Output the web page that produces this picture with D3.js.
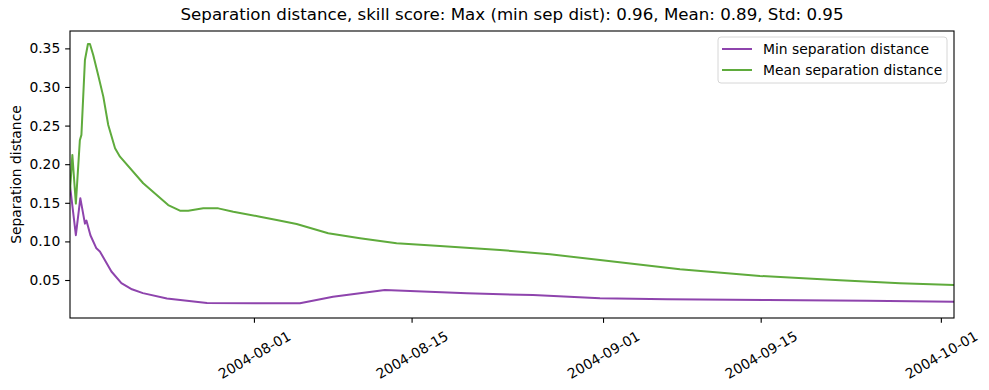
<!DOCTYPE html>
<html>
<head>
<meta charset="utf-8">
<script src="https://cdn.jsdelivr.net/npm/d3@7"></script>
<style>
  html, body { margin: 0; padding: 0; background: #fff; }
  svg { display: block; font-family: "DejaVu Sans", sans-serif; }
</style>
</head>
<body>
<div id="chart"></div>
<script>
// ---- data ----
const chartTitle = "Separation distance, skill score: Max (min sep dist): 0.96, Mean: 0.89, Std: 0.95";
const yLabel = "Separation distance";
const seriesNames = ["Min separation distance", "Mean separation distance"];
const seriesColors = ["#8e44ad", "#5fab3c"];

const xStart = "2004-07-15T16:00";
const xEnd = "2004-10-02T04:00";
const xTickDates = ["2004-08-01", "2004-08-15", "2004-09-01", "2004-09-15", "2004-10-01"];
const yTickValues = [0.05, 0.10, 0.15, 0.20, 0.25, 0.30, 0.35];
const yMin = 0.0008, yMax = 0.3725;

const minDates = [
  "2004-07-15T16:00", "2004-07-16T04:30", "2004-07-16T14:00", "2004-07-16T23:50",
  "2004-07-17T03:00", "2004-07-17T11:30", "2004-07-18T00:15", "2004-07-18T07:40",
  "2004-07-19T08:15", "2004-07-20T05:30", "2004-07-21T04:00", "2004-07-22T03:20",
  "2004-07-24T06:30", "2004-07-27T20:00", "2004-08-01T12:45", "2004-08-05T02:00",
  "2004-08-08T00:30", "2004-08-12T15:00", "2004-08-19T22:00", "2004-08-25T18:45",
  "2004-08-31T17:30", "2004-09-06T16:20", "2004-09-15T13:30", "2004-09-24T10:30",
  "2004-10-02T04:00"
];
const minValues = [
  0.172, 0.108, 0.156, 0.123,
  0.127, 0.108, 0.091, 0.087,
  0.061, 0.046, 0.038, 0.033,
  0.026, 0.0203, 0.0200, 0.0198,
  0.0284, 0.0370, 0.0327, 0.0306,
  0.0263, 0.0250, 0.0241, 0.0232,
  0.0219
];

const meanDates = [
  "2004-07-15T16:00", "2004-07-15T21:00", "2004-07-16T04:30", "2004-07-16T13:00",
  "2004-07-16T16:20", "2004-07-16T23:50", "2004-07-17T06:15", "2004-07-17T10:30",
  "2004-07-17T17:30", "2004-07-18T04:00", "2004-07-18T15:00", "2004-07-19T01:30",
  "2004-07-19T16:00", "2004-07-20T02:30", "2004-07-22T04:00", "2004-07-24T09:20",
  "2004-07-25T10:20", "2004-07-26T04:00", "2004-07-27T12:00", "2004-07-28T20:00",
  "2004-07-30T04:00", "2004-08-01T12:45", "2004-08-03T00:30", "2004-08-04T19:00",
  "2004-08-07T14:20", "2004-08-10T10:00", "2004-08-13T16:00", "2004-08-17T12:30",
  "2004-08-22T20:30", "2004-08-27T07:00", "2004-08-31T17:30", "2004-09-07T20:00",
  "2004-09-14T22:30", "2004-09-22T01:00", "2004-09-27T09:00", "2004-10-02T04:00"
];
const meanValues = [
  0.165, 0.212, 0.149, 0.231,
  0.238, 0.335, 0.3557, 0.3557,
  0.3415, 0.3155, 0.2875, 0.2508,
  0.2206, 0.2097, 0.1753, 0.1471,
  0.1398, 0.1398, 0.1428, 0.1428,
  0.1385, 0.1320, 0.1277, 0.1225,
  0.1105, 0.1040, 0.0975, 0.0940,
  0.0889, 0.0833, 0.0759, 0.0638,
  0.0552, 0.0496, 0.0457, 0.0435
];

// ---- layout ----
const W = 989, H = 390;
const margin = { left: 70, right: W - 954, top: 31, bottom: H - 318 };
const parse = d3.isoParse;
const fs = 13.89;      // 10pt @ 100 dpi
const tickLen = 4.86, tickPad = 4.86;

const svg = d3.select("#chart").append("svg").attr("width", W).attr("height", H);

const x = d3.scaleTime().domain([parse(xStart), parse(xEnd)]).range([margin.left, W - margin.right]);
const y = d3.scaleLinear().domain([yMin, yMax]).range([H - margin.bottom, margin.top]);

// lines
const series = [
  { name: seriesNames[0], color: seriesColors[0], pts: minDates.map((d, i) => [parse(d), minValues[i]]) },
  { name: seriesNames[1], color: seriesColors[1], pts: meanDates.map((d, i) => [parse(d), meanValues[i]]) }
];
const line = d3.line().x(d => x(d[0])).y(d => y(d[1])).curve(d3.curveLinear);

svg.append("defs").append("clipPath").attr("id", "clip")
  .append("rect").attr("x", margin.left).attr("y", margin.top)
  .attr("width", W - margin.right - margin.left).attr("height", H - margin.bottom - margin.top);

const plot = svg.append("g").attr("clip-path", "url(#clip)");
series.forEach(s => {
  plot.append("path").datum(s.pts).attr("d", line)
    .attr("fill", "none").attr("stroke", s.color).attr("stroke-width", 2)
    .attr("stroke-linejoin", "round").attr("stroke-linecap", "butt");
});

// axes
const xAxis = d3.axisBottom(x).tickValues(xTickDates.map(parse)).tickSize(tickLen).tickPadding(tickPad)
  .tickFormat(d3.timeFormat("%Y-%m-%d"));
const gx = svg.append("g").attr("transform", `translate(0,${H - margin.bottom})`).call(xAxis);
gx.select(".domain").remove();
gx.selectAll(".tick line").attr("stroke", "#000").attr("stroke-width", 1.1);
gx.selectAll(".tick text").each(function () {
  const t = d3.select(this);
  t.attr("y", null).attr("dy", null).attr("font-size", fs).attr("fill", "#000")
    .attr("font-family", "DejaVu Sans").attr("text-anchor", "middle").attr("dominant-baseline", "central");
  const bb = this.getBBox();
  const w = bb.width, h = bb.height;
  const rh = w * 0.5 + h * 0.866;
  t.attr("transform", `translate(0,${tickLen + tickPad + rh / 2}) rotate(-30)`);
});

const yAxis = d3.axisLeft(y).tickValues(yTickValues).tickSize(tickLen).tickPadding(tickPad)
  .tickFormat(d3.format(".2f"));
const gy = svg.append("g").attr("transform", `translate(${margin.left},0)`).call(yAxis);
gy.select(".domain").remove();
gy.selectAll(".tick line").attr("stroke", "#000").attr("stroke-width", 1.1);
gy.selectAll(".tick text").attr("font-size", fs).attr("fill", "#000").attr("font-family", "DejaVu Sans");

// frame
svg.append("rect").attr("x", margin.left).attr("y", margin.top)
  .attr("width", W - margin.right - margin.left).attr("height", H - margin.bottom - margin.top)
  .attr("fill", "none").attr("stroke", "#000").attr("stroke-width", 1.1);

// title
svg.append("text").attr("x", (margin.left + W - margin.right) / 2).attr("y", 20)
  .attr("text-anchor", "middle").attr("font-size", 16.67).attr("fill", "#000").text(chartTitle);

// y label
svg.append("text").attr("transform", `translate(16,${(margin.top + H - margin.bottom) / 2}) rotate(-90)`)
  .attr("text-anchor", "middle").attr("dominant-baseline", "central")
  .attr("font-size", fs).attr("fill", "#000").text(yLabel);

// legend
const lgX = 718, lgY = 37, lgW = 229, lgH = 46;
const lg = svg.append("g");
lg.append("rect").attr("x", lgX).attr("y", lgY).attr("width", lgW).attr("height", lgH)
  .attr("rx", 3).attr("fill", "#fff").attr("fill-opacity", 0.8).attr("stroke", "#d6d6d6").attr("stroke-width", 1);
series.forEach((s, i) => {
  const cy = 49 + i * 21;
  lg.append("line").attr("x1", 722).attr("x2", 752).attr("y1", cy).attr("y2", cy)
    .attr("stroke", s.color).attr("stroke-width", 2);
  lg.append("text").attr("x", 763).attr("y", cy).attr("dominant-baseline", "central")
    .attr("font-size", fs).attr("fill", "#000").text(s.name);
});
</script>
</body>
</html>
